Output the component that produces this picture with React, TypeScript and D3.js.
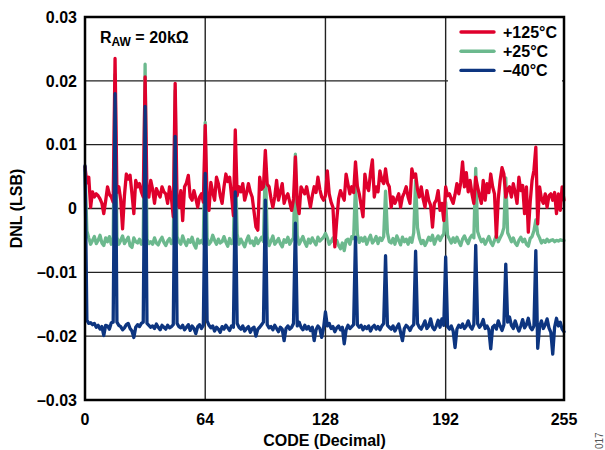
import React from "react";
import * as d3 from "d3";

// DNL values in units of 0.001 LSB, index = code 0..255
const dnl125: number[] = [
  6.5, 4.0, 4.9, 0.2, 2.6, 1.8, 2.3, 2.0, 1.5, 0.8, -0.8, 1.2, 3.4, 2.2, 1.8, 1.0,
  23.5, 2.5, 3.4, 1.4, -3.2, 2.0, 5.4, 4.6, 5.2, 2.3, -0.8, 4.4, 3.4, 3.9, 2.6, 1.8,
  20.6, 2.3, 1.8, 4.4, 3.0, 0.8, 3.1, 2.4, 1.8, 3.4, 2.6, 2.3, 0.8, 3.4, 1.6, -1.3,
  19.6, 1.5, 0.2, 2.8, -1.9, 3.4, 4.0, 5.2, 1.8, 1.3, 2.8, 1.6, 0.2, 1.8, 2.3, 1.0,
  13.0, 1.2, -0.3, 4.1, 2.5, 1.3, 4.9, 3.9, 2.0, 0.8, 3.4, 5.4, 4.2, 4.9, 2.0, -1.1,
  12.3, 2.0, 3.4, 2.6, 3.9, 1.3, 2.4, 3.9, 2.6, 1.8, -0.5, -2.9, -3.4, 4.9, 3.0, 3.4,
  9.1, 3.8, 3.4, 1.6, 0.2, 1.8, 4.4, 1.3, 2.6, 3.9, 0.8, 1.8, 2.3, 1.0, -0.3, 1.5,
  8.1, 1.0, -0.8, 3.4, 2.8, 2.3, 3.4, 1.8, 0.2, 2.0, 3.4, 2.5, 4.9, 3.0, 1.8, 1.3,
  2.0, 5.9, 2.3, 1.0, 0.2, -6.0, -1.9, 1.5, 2.8, 2.0, 1.3, 5.4, 3.8, 2.3, 3.4, 2.5,
  7.3, 3.5, 2.3, 0.5, -1.3, 5.4, 3.5, 2.8, 5.6, 7.6, 1.8, 3.4, 2.6, 5.9, 4.5, 3.9,
  6.2, 4.0, 3.4, 0.2, 1.8, 0.8, 1.5, 2.3, 0.2, 1.8, 2.5, 3.4, 1.8, 0.8, 6.2, 4.9,
  5.4, 3.0, 1.8, 3.4, 1.5, 0.2, 2.8, 1.3, 0.5, -2.9, 0.8, 1.3, 2.8, -0.3, 0.8, -1.9,
  3.4, 2.0, 2.3, 1.5, 0.8, 2.2, 3.9, 2.3, 4.0, 7.3, 3.4, 5.6, 2.6, 4.4, 2.3, 0.8,
  4.9, 3.4, 2.0, 0.8, 4.4, 1.3, 3.9, 2.5, 5.4, 3.4, 2.3, -4.5, 1.5, 4.4, 6.4, 5.4,
  1.8, 3.0, 3.4, 1.8, 3.9, 2.5, 0.8, 4.9, 2.8, 3.6, -0.8, 3.4, -3.7, 1.0, 4.4, 6.0,
  9.6, -2.4, 3.4, 1.5, 0.8, 2.3, 0.2, 2.0, 2.3, 1.3, 2.5, -0.8, 2.3, -0.3, 3.4, 1.3,
];

const dnl25: number[] = [
  6.0, -3.5, -4.6, -5.6, -5.0, -4.4, -5.5, -5.0, -4.2, -5.4, -5.8, -4.6, -5.2, -4.4, -5.6, -5.0,
  21.0, -4.5, -5.6, -5.0, -4.3, -5.5, -5.0, -4.5, -5.8, -6.1, -4.6, -5.2, -5.4, -4.8, -5.6, -4.9,
  22.6, -4.8, -5.5, -5.2, -5.6, -4.6, -5.4, -5.7, -5.0, -4.5, -5.3, -5.8, -5.1, -4.7, -5.5, -5.2,
  18.5, -4.4, -5.2, -5.6, -4.3, -5.2, -5.8, -4.9, -5.3, -4.5, -5.6, -6.2, -4.8, -5.4, -5.0, -5.5,
  13.5, -4.6, -5.6, -5.2, -4.2, -5.0, -5.6, -4.8, -5.4, -5.2, -4.4, -5.3, -5.9, -4.7, -5.5, -5.0,
  8.0, -4.0, -5.6, -4.8, -5.4, -6.0, -5.0, -4.3, -5.4, -5.1, -5.8, -4.6, -5.5, -5.0, -4.5, -5.2,
  7.0, -4.4, -5.8, -5.1, -4.3, -5.6, -5.2, -4.7, -5.5, -6.0, -4.9, -5.3, -4.5, -5.6, -5.0, -4.6,
  8.5, -4.2, -5.6, -5.0, -4.4, -5.3, -5.9, -4.8, -5.4, -4.6, -5.2, -5.7, -4.5, -5.1, -4.8, -4.5,
  -3.9, -4.6, -5.6, -5.2, -4.6, -5.5, -5.0, -5.8, -6.3, -5.4, -6.6, -5.0, -4.8, -5.6, -4.4, -4.7,
  3.8, -4.0, -5.3, -4.6, -5.1, -4.5, -5.6, -4.8, -4.2, -5.4, -5.0, -4.4, -5.5, -4.6, -5.0, -4.4,
  2.7, -3.8, -5.2, -5.4, -4.7, -5.6, -4.3, -5.0, -5.7, -4.5, -5.2, -4.8, -5.6, -4.6, -5.3, -3.8,
  4.4, -3.0, -4.6, -5.5, -5.0, -5.8, -5.2, -4.5, -5.0, -4.2, -5.6, -4.8, -4.3, -5.0, -4.4, -4.0,
  1.0, -4.2, -4.8, -5.4, -4.6, -5.3, -4.5, -5.2, -5.8, -4.8, -4.3, -5.0, -5.5, -4.6, -4.2, -4.6,
  6.3, -3.6, -4.5, -5.2, -4.8, -5.6, -5.0, -4.4, -5.3, -5.8, -5.0, -4.2, -5.2, -4.6, -4.0, -3.0,
  4.8, -3.8, -4.5, -5.2, -4.6, -5.4, -5.8, -5.0, -4.5, -5.2, -4.8, -5.6, -5.9, -4.7, -4.4, -3.5,
  -1.8, -4.0, -4.6, -5.4, -5.0, -5.3, -4.8, -5.2, -5.0, -4.9, -5.2, -5.0, -5.1, -4.9, -5.0, -5.0,
];

const dnlM40: number[] = [
  6.7, -17.5, -18.0, -17.9, -18.2, -18.0, -18.6, -18.3, -18.9, -18.5, -19.9, -18.3, -18.4, -18.9, -17.9, -17.8,
  18.0, -17.8, -18.3, -18.5, -19.0, -18.7, -18.2, -18.0, -18.8, -19.2, -20.2, -18.6, -18.2, -18.5, -18.0, -17.8,
  16.0, -18.0, -18.3, -18.6, -18.4, -18.8, -18.1, -18.6, -19.0, -18.3, -18.6, -18.9, -18.3, -18.7, -18.5, -18.2,
  11.3, -18.0, -18.5, -18.7, -18.3, -19.0, -18.6, -18.2, -19.1, -18.4, -18.8, -19.6, -18.5, -18.2, -18.8, -18.3,
  5.5, -17.6, -18.3, -18.7, -18.4, -19.2, -18.6, -18.9, -19.4, -18.5, -18.9, -18.3, -18.7, -19.1, -18.4, -18.6,
  2.6, -18.0, -18.6, -18.9, -18.4, -19.2, -18.8, -18.5, -19.4, -18.8, -18.6, -20.0, -18.9, -18.6, -18.2, -17.8,
  1.3, -18.2, -18.7, -18.5, -19.0, -18.3, -18.8, -19.3, -18.6, -18.9, -20.7, -18.8, -18.4, -18.9, -18.6, -18.0,
  -2.3, -18.4, -17.8, -18.6, -19.0, -18.3, -18.9, -18.5, -19.1, -18.6, -20.7, -19.0, -18.4, -18.8, -20.2, -18.7,
  -16.2, -18.4, -18.0, -18.8, -18.5, -19.3, -18.7, -18.4, -19.0, -18.6, -21.2, -19.0, -18.3, -18.8, -18.5, -18.2,
  -4.5, -18.2, -18.6, -18.3, -19.0, -18.5, -18.8, -18.4, -19.2, -18.6, -18.3, -18.9, -18.5, -19.0, -18.4, -18.0,
  -7.4, -18.3, -18.6, -18.9, -18.4, -19.2, -18.6, -18.1, -19.4, -20.7, -18.8, -18.3, -18.6, -19.1, -18.5, -18.2,
  -6.7, -18.0, -18.6, -18.9, -18.3, -17.6, -18.8, -18.4, -17.3, -18.6, -19.0, -18.4, -17.5, -18.6, -17.3, -18.3,
  -7.6, -18.5, -18.9, -18.4, -19.2, -21.8, -18.9, -18.3, -18.6, -18.1, -18.8, -18.4, -17.6, -18.5, -18.9, -18.2,
  -5.8, -18.0, -18.6, -18.2, -17.4, -18.8, -18.4, -19.0, -22.0, -18.6, -18.3, -18.9, -17.6, -18.4, -19.1, -18.2,
  -8.7, -17.8, -17.0, -18.3, -18.8, -17.6, -18.5, -19.2, -18.4, -17.4, -18.7, -18.2, -17.2, -18.6, -19.0, -18.4,
  -6.6, -21.9, -18.5, -17.6, -18.8, -18.2, -17.3, -18.7, -19.4, -22.8, -18.6, -17.2, -18.4, -17.8, -18.9, -19.3,
];

const seriesNames = ["+125°C", "+25°C", "–40°C"];
const seriesColors = ["#df002c", "#6cb98e", "#0d3580"];

const xTicks = [0, 64, 128, 192, 255];
const xTickLabels = ["0", "64", "128", "192", "255"];
const yTicks = [-30, -20, -10, 0, 10, 20, 30];
const yTickLabels = ["–0.03", "–0.02", "–0.01", "0", "0.01", "0.02", "0.03"];
const xGrid = [64, 128, 192];
const yGrid = [-20, -10, 0, 10, 20];

const FONT = "'Liberation Sans', Arial, Helvetica, sans-serif";

export default function App() {
  const W = 605;
  const H = 450;
  const L = 85, R = 564, T = 17, B = 400;
  const x = d3.scaleLinear().domain([0, 255]).range([L, R]);
  const y = d3.scaleLinear().domain([-30, 30]).range([B, T]);
  const line = d3
    .line<number>()
    .x((_, i) => x(i))
    .y((d) => y(d));

  const data = [dnl125, dnl25, dnlM40];
  const drawOrder = [1, 0, 2];
  const fs = 16;

  return (
    <svg
      width={W}
      height={H}
      style={{ position: "absolute", left: 0, top: 0, display: "block", background: "#fff" }}
      fontFamily={FONT}
    >
      <rect x={0} y={0} width={W} height={H} fill="#fff" />
      {/* grid */}
      {yGrid.map((v) => (
        <line key={"gy" + v} x1={L} x2={R} y1={y(v)} y2={y(v)} stroke="#222" strokeWidth={1.4} />
      ))}
      {xGrid.map((v) => (
        <line key={"gx" + v} x1={x(v)} x2={x(v)} y1={T} y2={B} stroke="#222" strokeWidth={1.4} />
      ))}
      {/* legend background */}
      <rect x={448} y={19} width={114} height={66} fill="#fff" />
      {/* series */}
      {drawOrder.map((si) => (
        <path
          key={"s" + si}
          d={line(data[si]) || ""}
          fill="none"
          stroke={seriesColors[si]}
          strokeWidth={3.3}
          strokeLinejoin="round"
          strokeLinecap="round"
        />
      ))}
      {/* frame */}
      <rect x={L} y={T} width={R - L} height={B - T} fill="none" stroke="#000" strokeWidth={2.5} />
      {/* y tick labels */}
      {yTicks.map((v, i) => (
        <text key={"yt" + v} x={77} y={y(v)} dy="0.36em" textAnchor="end" fontSize={fs} fontWeight="bold" fill="#000">
          {yTickLabels[i]}
        </text>
      ))}
      {/* x tick labels */}
      {xTicks.map((v, i) => (
        <text key={"xt" + v} x={x(v)} y={425} textAnchor="middle" fontSize={fs} fontWeight="bold" fill="#000">
          {xTickLabels[i]}
        </text>
      ))}
      {/* axis titles */}
      <text x={(L + R) / 2} y={446} textAnchor="middle" fontSize={fs} fontWeight="bold" fill="#000">
        CODE (Decimal)
      </text>
      <text
        transform={`translate(22, ${(T + B) / 2}) rotate(-90)`}
        textAnchor="middle"
        fontSize={fs}
        fontWeight="bold"
        fill="#000"
      >
        DNL (LSB)
      </text>
      {/* annotation */}
      <text x={100} y={42.5} fontSize={fs} fontWeight="bold" fill="#000">
        R
        <tspan fontSize={12} dy={3.5}>AW</tspan>
        <tspan dy={-3.5}> = 20kΩ</tspan>
      </text>
      {/* legend */}
      {seriesNames.map((name, i) => (
        <g key={"lg" + i} transform={`translate(0, ${32 + i * 19.2})`}>
          <line x1={461} x2={494} y1={0} y2={0} stroke={seriesColors[i]} strokeWidth={3.4} strokeLinecap="round" />
          <text x={503} y={0} dy="0.36em" fontSize={fs} fontWeight="bold" fill="#000">
            {name}
          </text>
        </g>
      ))}
      {/* figure id */}
      <text transform="translate(603, 449) rotate(-90)" fontSize={10} fill="#555">
        017
      </text>
    </svg>
  );
}
